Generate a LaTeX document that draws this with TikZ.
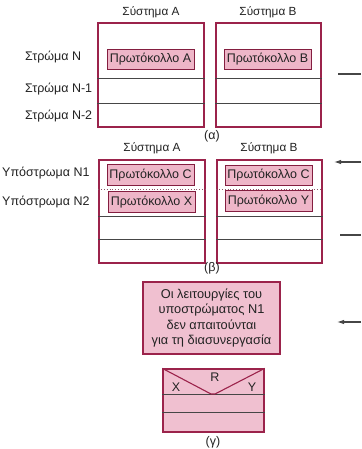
\documentclass[tikz,border=0pt]{standalone}
\usepackage{fontspec}
\setmainfont{Liberation Sans}
\usetikzlibrary{arrows.meta}
\definecolor{boxred}{RGB}{155,35,75}
\definecolor{pinkfill}{RGB}{238,182,200}
\definecolor{pinklight}{RGB}{240,192,208}
\definecolor{linegray}{RGB}{70,70,70}
\definecolor{textgray}{RGB}{35,35,35}
\begin{document}
\begin{tikzpicture}[x=1pt,y=-1pt,
  font=\fontsize{12.5}{14}\selectfont, text=textgray,
  sysbox/.style={draw=boxred, line width=1.2pt, inner sep=0pt},
  proto/.style={draw=boxred!85!black, fill=pinkfill, line width=0.8pt,
    minimum width=87pt, minimum height=20.5pt, inner sep=0pt},
  layerline/.style={draw=linegray, line width=0.9pt},
  dotline/.style={draw=boxred!50!gray, line width=0.8pt, dotted},
  sidemark/.style={draw=linegray, line width=1.1pt},
  sidearrow/.style={draw=linegray, line width=1.1pt, -{Latex[length=7pt,width=4.5pt]}},
  lbl/.style={anchor=west, inner sep=0pt},
  plain/.style={inner sep=0pt},
  syscap/.style={inner sep=0pt, font=\fontsize{11.8}{14}\selectfont}]
\useasboundingbox[fill=white] (0,0) rectangle (361,449);

% ---------------- (a) ----------------
\node[syscap] (sysAa) at (151,12) {Σύστημα Α};
\node[syscap] (sysBa) at (268,12) {Σύστημα Β};
\node[sysbox, minimum width=106pt, minimum height=104pt] (ba) at (151,75) {};
\node[sysbox, minimum width=105pt, minimum height=104pt] (bb) at (268.5,75) {};
\foreach \b in {ba,bb}{
  \draw[layerline] ([yshift=49pt]\b.south west) -- ([yshift=49pt]\b.south east);
  \draw[layerline] ([yshift=24pt]\b.south west) -- ([yshift=24pt]\b.south east);
}
\node[proto] (pA) at (150.5,59.5) {Πρωτόκολλο Α};
\node[proto] (pB) at (267.5,59.5) {Πρωτόκολλο Β};
\node[lbl] (ln) at (25,57) {Στρώμα Ν};
\node[lbl] (ln1) at (25,89) {Στρώμα Ν-1};
\node[lbl] (ln2) at (25,116) {Στρώμα Ν-2};
\node[plain] (capa) at (212,136) {(α)};
\coordinate (m1a) at (338,74);
\coordinate (m1b) at (361,74);
\draw[sidemark] (m1a) -- (m1b);

% ---------------- (b) ----------------
\node[syscap] (sysAb) at (152,148) {Σύστημα Α};
\node[syscap] (sysBb) at (269,148) {Σύστημα Β};
\node[sysbox, minimum width=106pt, minimum height=103pt] (bc) at (152,211.5) {};
\node[sysbox, minimum width=105pt, minimum height=103pt] (bd) at (269.5,211.5) {};
\foreach \b in {bc,bd}{
  \draw[dotline] ([yshift=74pt]\b.south west) -- ([yshift=74pt]\b.south east);
  \draw[layerline] ([yshift=47pt]\b.south west) -- ([yshift=47pt]\b.south east);
  \draw[layerline] ([yshift=24pt]\b.south west) -- ([yshift=24pt]\b.south east);
}
\node[proto] (pC1) at (150.5,175) {Πρωτόκολλο C};
\node[proto] (pX) at (151.5,202) {Πρωτόκολλο X};
\node[proto] (pC2) at (268.5,175.5) {Πρωτόκολλο C};
\node[proto] (pY) at (268.5,201) {Πρωτόκολλο Y};
\node[lbl] (lsub1) at (2,173) {Υπόστρωμα Ν1};
\node[lbl] (lsub2) at (2,202) {Υπόστρωμα Ν2};
\node[plain] (capb) at (212,268) {(β)};
\coordinate (a1s) at (361,162);
\coordinate (a1e) at (334,162);
\draw[sidearrow] (a1s) -- (a1e);
\coordinate (m2a) at (340,235);
\coordinate (m2b) at (361,235);
\draw[sidemark] (m2a) -- (m2b);

% ---------------- (c) ----------------
\node[draw=boxred, fill=pinklight, line width=1.2pt, minimum width=137pt,
  minimum height=72pt, align=center, inner sep=0pt,
  font=\fontsize{12.8}{15.3}\selectfont] (note) at (211.5,318)
  {Οι λειτουργίες του\\υποστρώματος Ν1\\δεν απαιτούνται\\για τη διασυνεργασία};
\coordinate (a2s) at (361,322);
\coordinate (a2e) at (337,322);
\draw[sidearrow] (a2s) -- (a2e);

\node[sysbox, fill=pinklight, minimum width=101pt, minimum height=63pt] (bg) at (213.5,400.5) {};
\draw[layerline] ([yshift=38pt]bg.south west) -- ([yshift=38pt]bg.south east);
\draw[layerline] ([yshift=20pt]bg.south west) -- ([yshift=20pt]bg.south east);
\coordinate (vl) at (211,394);
\coordinate (vr) at (215,394);
\draw[boxred, line width=1.1pt, line join=round] (bg.north west) -- (vl) -- (vr) -- (bg.north east);
\node[plain] (tX) at (176,387) {X};
\node[plain] (tR) at (215,377) {R};
\node[plain] (tY) at (252,387) {Y};
\node[plain] (capg) at (213,442) {(γ)};
\end{tikzpicture}
\end{document}
